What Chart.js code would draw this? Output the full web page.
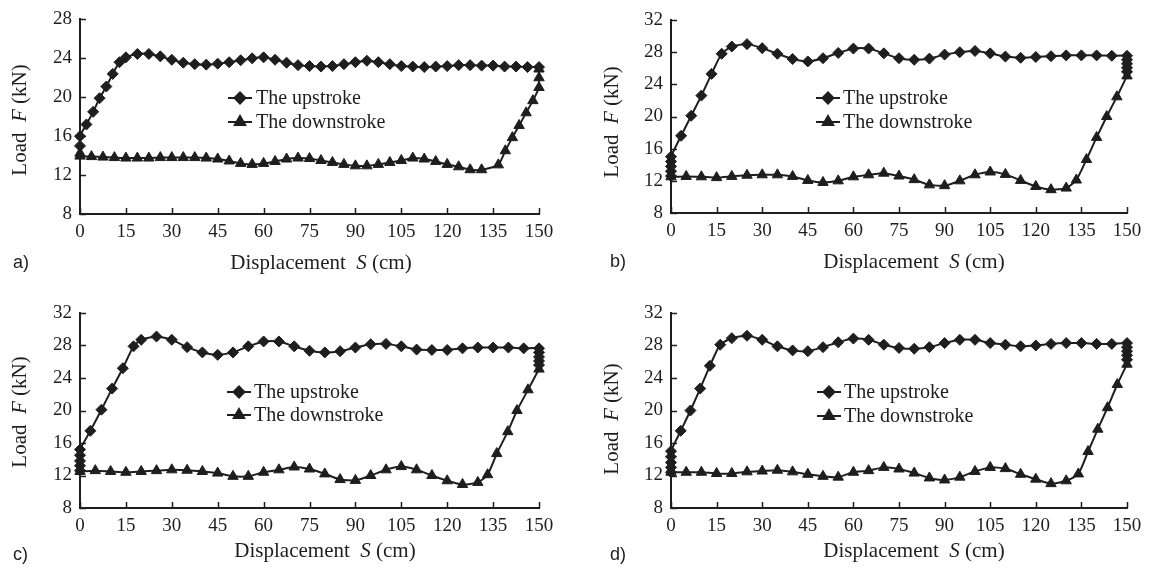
<!DOCTYPE html>
<html>
<head>
<meta charset="utf-8">
<script src="https://cdn.jsdelivr.net/npm/chart.js@4.4.1/dist/chart.umd.min.js"></script>
<style>
  html, body { margin: 0; padding: 0; background: #fff; }
  #wrap { position: relative; width: 1152px; height: 576px; overflow: hidden; }
  #wrap canvas { position: absolute; }
</style>
</head>
<body>
<div id="wrap">
  <canvas id="chartA" width="576" height="288" style="left:0;top:0"></canvas>
  <canvas id="chartB" width="576" height="288" style="left:576px;top:0"></canvas>
  <canvas id="chartC" width="576" height="288" style="left:0;top:288px"></canvas>
  <canvas id="chartD" width="576" height="288" style="left:576px;top:288px"></canvas>
</div>
<script>
// series names and axis ticks
const seriesNames = ['The upstroke', 'The downstroke'];
const xTicks = [0, 15, 30, 45, 60, 75, 90, 105, 120, 135, 150];
const yTicksA = [8, 12, 16, 20, 24, 28];
const yTicksBCD = [8, 12, 16, 20, 24, 28, 32];

// panel a) displacement (cm) and load (kN)
const aUpX = [0, 0, 2.1, 4.3, 6.4, 8.6, 10.7, 12.9, 15, 18.75, 22.5, 26.25, 30, 33.75, 37.5, 41.25, 45, 48.75, 52.5, 56.25, 60, 63.75, 67.5, 71.25, 75, 78.75, 82.5, 86.25, 90, 93.75, 97.5, 101.25, 105, 108.75, 112.5, 116.25, 120, 123.75, 127.5, 131.25, 135, 138.75, 142.5, 146.25, 150];
const aUpY = [15.0, 16.0, 17.2, 18.5, 19.9, 21.1, 22.4, 23.6, 24.1, 24.45, 24.45, 24.2, 23.85, 23.55, 23.4, 23.35, 23.45, 23.6, 23.8, 24.0, 24.1, 23.85, 23.55, 23.3, 23.2, 23.15, 23.2, 23.4, 23.6, 23.75, 23.6, 23.4, 23.2, 23.15, 23.1, 23.15, 23.2, 23.3, 23.3, 23.25, 23.25, 23.15, 23.15, 23.1, 23.1];
const aDownX = [150, 150, 150, 148, 145.8, 143.5, 141.3, 139, 136.7, 131.25, 127.5, 123.75, 120, 116.25, 112.5, 108.75, 105, 101.25, 97.5, 93.75, 90, 86.25, 82.5, 78.75, 75, 71.25, 67.5, 63.75, 60, 56.25, 52.5, 48.75, 45, 41.25, 37.5, 33.75, 30, 26.25, 22.5, 18.75, 15, 11.25, 7.5, 3.75, 0, 0];
const aDownY = [22.9, 22.0, 21.0, 19.65, 18.4, 17.1, 15.85, 14.5, 13.05, 12.55, 12.55, 12.85, 13.1, 13.4, 13.65, 13.75, 13.5, 13.3, 13.1, 12.95, 12.95, 13.1, 13.3, 13.5, 13.7, 13.75, 13.65, 13.4, 13.2, 13.1, 13.2, 13.45, 13.65, 13.75, 13.8, 13.8, 13.8, 13.8, 13.75, 13.75, 13.75, 13.8, 13.85, 13.9, 13.95, 14.25];

// panel b)
const bUpX = [0, 0, 0, 0, 0, 3.33, 6.67, 10, 13.33, 16.67, 20, 25, 30, 35, 40, 45, 50, 55, 60, 65, 70, 75, 80, 85, 90, 95, 100, 105, 110, 115, 120, 125, 130, 135, 140, 145, 150, 150, 150, 150, 150];
const bUpY = [12.6, 13.2, 13.8, 14.4, 15.0, 17.6, 20.1, 22.6, 25.3, 27.8, 28.7, 29.0, 28.5, 27.8, 27.15, 26.85, 27.25, 27.9, 28.45, 28.45, 27.85, 27.25, 27.05, 27.2, 27.7, 28.0, 28.15, 27.85, 27.45, 27.3, 27.4, 27.5, 27.6, 27.6, 27.6, 27.55, 27.55, 27.05, 26.55, 26.05, 25.55];
const bDownX = [150, 146.67, 143.33, 140, 136.67, 133.33, 130, 125, 120, 115, 110, 105, 100, 95, 90, 85, 80, 75, 70, 65, 60, 55, 50, 45, 40, 35, 30, 25, 20, 15, 10, 5, 0];
const bDownY = [25.05, 22.45, 20.0, 17.4, 14.65, 12.1, 11.1, 10.9, 11.3, 12.05, 12.8, 13.1, 12.75, 12.0, 11.4, 11.5, 12.15, 12.6, 12.95, 12.75, 12.5, 12.0, 11.8, 12.05, 12.55, 12.75, 12.75, 12.7, 12.55, 12.4, 12.5, 12.55, 12.5];

// panel c)
const cUpX = [0, 0, 0, 0, 0, 3.4, 7, 10.5, 14, 17.5, 20, 25, 30, 35, 40, 45, 50, 55, 60, 65, 70, 75, 80, 85, 90, 95, 100, 105, 110, 115, 120, 125, 130, 135, 140, 145, 150, 150, 150, 150, 150];
const cUpY = [12.6, 13.2, 13.8, 14.5, 15.2, 17.5, 20.1, 22.7, 25.2, 27.9, 28.7, 29.1, 28.7, 27.8, 27.15, 26.85, 27.15, 27.9, 28.5, 28.5, 27.9, 27.35, 27.15, 27.3, 27.75, 28.15, 28.2, 27.9, 27.5, 27.45, 27.45, 27.65, 27.75, 27.75, 27.75, 27.65, 27.65, 27.15, 26.6, 26.1, 25.6];
const cDownX = [150, 146.4, 142.8, 139.8, 136.2, 133.2, 130, 125, 120, 115, 110, 105, 100, 95, 90, 85, 80, 75, 70, 65, 60, 55, 50, 45, 40, 35, 30, 25, 20, 15, 10, 5, 0];
const cDownY = [25.1, 22.55, 20.0, 17.4, 14.7, 12.1, 11.15, 10.9, 11.35, 12.0, 12.7, 13.1, 12.7, 12.0, 11.4, 11.5, 12.2, 12.8, 13.05, 12.7, 12.4, 11.9, 11.9, 12.3, 12.5, 12.65, 12.7, 12.6, 12.5, 12.4, 12.5, 12.6, 12.5];

// panel d)
const dUpX = [0, 0, 0, 0, 0, 3.2, 6.4, 9.6, 12.8, 16.2, 20, 25, 30, 35, 40, 45, 50, 55, 60, 65, 70, 75, 80, 85, 90, 95, 100, 105, 110, 115, 120, 125, 130, 135, 140, 145, 150, 150, 150, 150, 150];
const dUpY = [12.4, 13.0, 13.6, 14.3, 15.0, 17.5, 20.0, 22.7, 25.5, 28.1, 28.9, 29.2, 28.7, 27.9, 27.4, 27.3, 27.8, 28.4, 28.85, 28.7, 28.1, 27.7, 27.6, 27.8, 28.3, 28.7, 28.7, 28.3, 28.1, 27.9, 28.0, 28.2, 28.3, 28.3, 28.2, 28.2, 28.3, 27.8, 27.3, 26.8, 26.25];
const dDownX = [150, 146.8, 143.6, 140.4, 137.2, 134, 130, 125, 120, 115, 110, 105, 100, 95, 90, 85, 80, 75, 70, 65, 60, 55, 50, 45, 40, 35, 30, 25, 20, 15, 10, 5, 0];
const dDownY = [25.7, 23.2, 20.35, 17.7, 14.95, 12.2, 11.35, 11.0, 11.55, 12.15, 12.85, 13.0, 12.5, 11.8, 11.45, 11.7, 12.3, 12.8, 13.0, 12.6, 12.4, 11.8, 11.9, 12.15, 12.45, 12.65, 12.55, 12.45, 12.25, 12.25, 12.4, 12.4, 12.4];

const INK = '#1e1e1e';
const SERIF = "'Liberation Serif', 'Times New Roman', serif";

const toPts = (xs, ys) => xs.map((x, i) => ({ x: x, y: ys[i] }));

// draws inner ticks, the legend, axis titles and the panel letter
const decor = {
  id: 'decor',
  afterDraw(chart, args, o) {
    const { ctx, chartArea: a, scales: { x, y } } = chart;
    ctx.save();
    ctx.strokeStyle = INK;
    ctx.fillStyle = INK;
    ctx.lineWidth = 1.5;
    ctx.beginPath();
    x.ticks.forEach(t => {
      const px = Math.round(x.getPixelForValue(t.value)) + 0.5;
      ctx.moveTo(px, a.bottom); ctx.lineTo(px, a.bottom - 6);
    });
    y.ticks.forEach(t => {
      const py = Math.round(y.getPixelForValue(t.value)) + 0.5;
      ctx.moveTo(a.left, py); ctx.lineTo(a.left + 6, py);
    });
    ctx.stroke();

    // legend
    chart.data.datasets.forEach((ds, i) => {
      const ly = o.legend.rows[i];
      ctx.lineWidth = 2;
      ctx.beginPath();
      ctx.moveTo(o.legend.x0, ly); ctx.lineTo(o.legend.x1, ly);
      ctx.stroke();
      Chart.helpers.drawPoint(ctx, {
        pointStyle: ds.pointStyle, radius: ds.pointRadius, rotation: 0, borderWidth: 1
      }, (o.legend.x0 + o.legend.x1) / 2, ly);
      ctx.font = '20px ' + SERIF;
      ctx.textAlign = 'left';
      ctx.textBaseline = 'middle';
      ctx.fillText(ds.label, o.legend.tx, ly + 1);
    });

    // x title, with italic S
    drawMixed(ctx, [['Displacement  ', false], ['S', true], [' (cm)', false]], o.xTitle[0], o.xTitle[1], 0);
    // y title, with italic F
    drawMixed(ctx, [['Load  ', false], ['F', true], [' (kN)', false]], o.yTitle[0], o.yTitle[1], -Math.PI / 2);

    ctx.font = "18px 'Liberation Sans', Arial, sans-serif";
    ctx.textAlign = 'left';
    ctx.textBaseline = 'middle';
    ctx.fillText(o.tag, o.tagPos[0], o.tagPos[1]);
    ctx.restore();
  }
};

function drawMixed(ctx, parts, cx, cy, rot) {
  ctx.save();
  ctx.translate(cx, cy);
  ctx.rotate(rot);
  ctx.textBaseline = 'middle';
  ctx.textAlign = 'left';
  const fonts = parts.map(p => (p[1] ? 'italic ' : '') + '21px ' + SERIF);
  let total = 0;
  const widths = parts.map((p, i) => { ctx.font = fonts[i]; const w = ctx.measureText(p[0]).width; total += w; return w; });
  let px = -total / 2;
  parts.forEach((p, i) => { ctx.font = fonts[i]; ctx.fillText(p[0], px, 0); px += widths[i]; });
  ctx.restore();
}

function makePanel(id, up, down, yTicks, lay) {
  new Chart(document.getElementById(id), {
    type: 'scatter',
    data: {
      datasets: [{
        label: seriesNames[0],
        data: up,
        showLine: true,
        borderColor: INK, backgroundColor: INK,
        borderWidth: 2, tension: 0.2,
        pointStyle: 'rectRot', pointRadius: 5.5, pointBorderWidth: 1,
        clip: false
      }, {
        label: seriesNames[1],
        data: down,
        showLine: true,
        borderColor: INK, backgroundColor: INK,
        borderWidth: 2, tension: 0.2,
        pointStyle: 'triangle', pointRadius: 6, pointBorderWidth: 1,
        clip: false
      }]
    },
    options: {
      responsive: false,
      animation: false,
      events: [],
      layout: { padding: { left: 0, top: lay.area.t, right: 576 - lay.area.r, bottom: 0 } },
      plugins: {
        legend: { display: false },
        tooltip: { enabled: false },
        decor: lay
      },
      scales: {
        x: {
          type: 'linear',
          min: xTicks[0], max: xTicks[xTicks.length - 1],
          afterBuildTicks: s => { s.ticks = xTicks.map(v => ({ value: v })); },
          afterFit: s => { s.height = 288 - lay.area.b; },
          grid: { display: true, drawOnChartArea: false, drawTicks: false },
          border: { display: true, color: INK, width: 2 },
          ticks: { color: INK, padding: 7, maxRotation: 0, autoSkip: false, font: { family: SERIF, size: 19 } }
        },
        y: {
          type: 'linear',
          min: yTicks[0], max: yTicks[yTicks.length - 1],
          afterBuildTicks: s => { s.ticks = yTicks.map(v => ({ value: v })); },
          afterFit: s => { s.width = lay.area.l; },
          grid: { display: true, drawOnChartArea: false, drawTicks: false },
          border: { display: true, color: INK, width: 2 },
          ticks: { color: INK, padding: 8, autoSkip: false, font: { family: SERIF, size: 19 } }
        }
      }
    },
    plugins: [decor]
  });
}

makePanel('chartA', toPts(aUpX, aUpY), toPts(aDownX, aDownY), yTicksA, {
  area: { l: 80, r: 539, t: 18, b: 214 },
  legend: { x0: 228, x1: 252, tx: 256, rows: [98, 122] },
  xTitle: [321, 263], yTitle: [20, 120], tag: 'a)', tagPos: [13, 263]
});
makePanel('chartB', toPts(bUpX, bUpY), toPts(bDownX, bDownY), yTicksBCD, {
  area: { l: 95, r: 551, t: 20, b: 213 },
  legend: { x0: 240, x1: 264, tx: 267, rows: [98, 122] },
  xTitle: [338, 262], yTitle: [36, 122], tag: 'b)', tagPos: [34, 262]
});
makePanel('chartC', toPts(cUpX, cUpY), toPts(cDownX, cDownY), yTicksBCD, {
  area: { l: 80, r: 539, t: 25, b: 220 },
  legend: { x0: 227, x1: 251, tx: 254, rows: [104, 127] },
  xTitle: [325, 263], yTitle: [20, 124], tag: 'c)', tagPos: [13, 267]
});
makePanel('chartD', toPts(dUpX, dUpY), toPts(dDownX, dDownY), yTicksBCD, {
  area: { l: 95, r: 551, t: 25, b: 220 },
  legend: { x0: 241, x1: 265, tx: 268, rows: [104, 128] },
  xTitle: [338, 263], yTitle: [36, 131], tag: 'd)', tagPos: [34, 267]
});
</script>
</body>
</html>
